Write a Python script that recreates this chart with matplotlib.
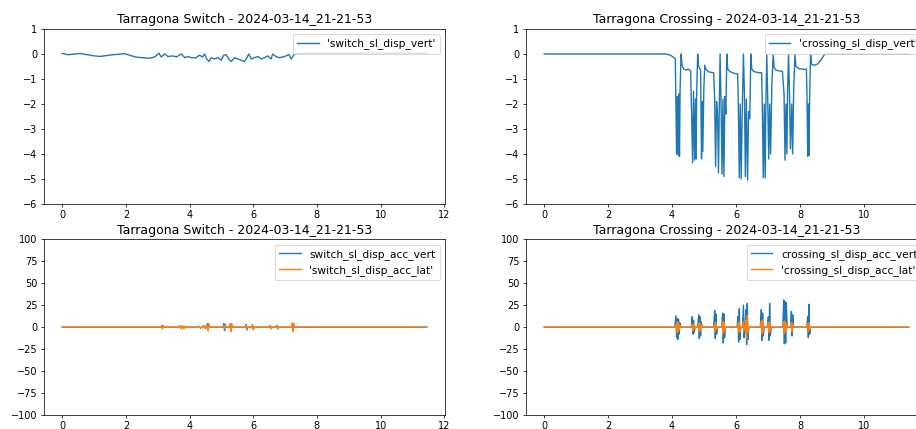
#-*-coding:utf-8 -*-
# Tarragona switch / crossing displacement + acceleration, 2024-03-14_21-21-53
import numpy as np
import matplotlib
matplotlib.use('Agg')
import matplotlib.pyplot as plt

run_id = '2024-03-14_21-21-53'

# switch vertical displacement (t [s], value)
sw_t = [0.00, 0.19, 0.55, 0.97, 1.18, 1.60, 1.96, 2.33, 2.75, 2.90,
        3.04, 3.11, 3.22, 3.32, 3.48, 3.59, 3.74, 3.85, 3.95, 4.05,
        4.20, 4.31, 4.41, 4.47, 4.54, 4.61, 4.68, 4.79, 4.89, 5.00,
        5.07, 5.15, 5.24, 5.31, 5.41, 5.52, 5.62, 5.73, 5.78, 5.86,
        5.94, 6.04, 6.14, 6.25, 6.35, 6.46, 6.56, 6.61, 6.71, 6.82,
        6.93, 7.03, 7.12, 7.19, 7.24, 7.30, 7.45, 7.75, 11.45]
sw_vert = [0.02, -0.03, 0.02, -0.07, -0.10, -0.03, 0.01, -0.13, -0.17, -0.12,
           0.03, -0.12, 0.00, -0.10, -0.08, -0.12, 0.00, -0.15, -0.10, -0.15,
           -0.15, -0.05, -0.12, 0.00, -0.20, -0.30, -0.15, -0.20, -0.15, -0.25,
           -0.05, -0.03, -0.22, -0.30, -0.15, -0.20, -0.25, -0.30, -0.20, 0.00,
           -0.20, -0.15, -0.10, -0.20, -0.15, -0.08, -0.20, 0.00, -0.10, -0.15,
           -0.12, -0.08, -0.02, -0.20, -0.10, 0.00, 0.02, 0.03, 0.03]

# crossing vertical displacement
cr_t = [0.00, 3.80, 3.95, 4.06, 4.10,
        4.12, 4.14, 4.16, 4.19, 4.21, 4.23, 4.25, 4.28,
        4.31, 4.36, 4.45, 4.50, 4.58,
        4.61, 4.64, 4.67, 4.70, 4.73, 4.75, 4.77, 4.80,
        4.83, 4.87, 4.89, 4.90, 4.92, 4.94, 4.96, 4.99, 5.02, 5.06, 5.15, 5.30,
        5.33, 5.36, 5.39, 5.42, 5.45, 5.48, 5.50, 5.53, 5.56, 5.59, 5.62, 5.65, 5.68, 5.71,
        5.74, 5.80, 5.95, 6.05,
        6.07, 6.10, 6.13, 6.16, 6.19, 6.23, 6.26, 6.29, 6.32, 6.36, 6.39, 6.43, 6.46,
        6.49, 6.55, 6.70, 6.80,
        6.82, 6.85, 6.88, 6.91, 6.93, 6.96, 6.99, 7.02, 7.05, 7.08, 7.12, 7.16,
        7.19, 7.25, 7.45,
        7.50, 7.53, 7.56, 7.59, 7.61, 7.64, 7.67, 7.70, 7.74, 7.77, 7.80, 7.84,
        7.87, 7.95, 8.15, 8.20,
        8.22, 8.24, 8.26, 8.28, 8.30, 8.33,
        8.36, 8.45, 8.55, 8.65, 8.75, 8.80, 11.40]
cr_vert = [0.0, 0.0, -0.05, -0.15, -0.20,
           -2.1, -4.0, -1.7, -4.05, -1.6, -4.1, -1.4, 0.0,
           -0.45, -0.60, -0.65, -0.60, -0.68,
           -2.4, -4.35, -1.5, -4.25, -1.8, -4.2, -1.4, 0.0,
           -0.50, -0.60, -0.62, -1.9, -4.2, -1.9, -3.9, -1.5, -0.45, -0.62, -0.72, -0.75,
           -1.8, -4.5, -1.9, -2.4, -4.75, -1.7, 0.0, -2.0, -4.8, -1.8, -4.9, -1.7, -2.4, 0.0,
           -0.60, -0.70, -0.78, -0.80,
           -1.95, -4.95, -2.0, -5.0, -2.5, 0.0, -1.5, -4.9, -1.8, -5.05, -2.3, -2.6, 0.0,
           -0.60, -0.70, -0.75, -0.75,
           -2.1, -4.95, -2.0, -4.95, -2.2, 0.0, -1.8, -4.2, -2.0, -4.0, -1.2, 0.0,
           -0.55, -0.65, -0.70,
           -1.6, -4.25, -2.0, -4.0, -1.5, 0.0, -1.6, -3.8, -2.0, -4.0, -1.5, 0.0,
           -0.50, -0.58, -0.62, -0.60,
           -1.9, -4.1, -2.0, -4.05, -1.8, 0.0,
           -0.42, -0.45, -0.40, -0.25, -0.05, 0.0, 0.0]

# switch acceleration (vert / lat)
swa_t = [0.00, 3.10, 3.13, 3.15, 3.17, 3.20, 3.65, 3.70, 3.74, 3.78, 3.82, 3.87, 3.92,
         4.25, 4.30, 4.35, 4.45, 4.50, 4.56, 4.58, 4.60, 4.63,
         5.05, 5.08, 5.10, 5.12, 5.15, 5.25, 5.28, 5.30, 5.32, 5.35,
         5.75, 5.78, 5.80, 5.83, 5.95, 5.98, 6.00, 6.03,
         6.50, 6.53, 6.55, 6.58, 6.72, 6.75, 6.77, 6.80,
         7.20, 7.23, 7.25, 7.27, 7.30, 11.45]
swa_vert = [0, 0, 1, -1, 1, 0, 0, 1, -1, 1, -1, 1, 0,
            0, 1, -1, 1, -1, 4, -4, 3, 0,
            0, 4, -4, 3, 0, 0, 2, -3, 2, 0,
            0, 3, -3, 0, 0, 2, -2, 0,
            0, 1, -1, 0, 0, 2, -2, 0,
            0, 3, -3, 2, 0, 0]
swa_lat = [0, 0, 2, -2, 2, 0, 0, 2, -2, 2, -2, 1, 0,
           0, 1, -1, 2, -2, 3, -4, 4, 0,
           0, 2, -2, 2, 0, 0, 4, -5, 4, 0,
           0, 2, -2, 0, 0, 3, -3, 0,
           0, 2, -2, 0, 0, 2, -2, 0,
           0, 5, -5, 4, 0, 0]

# crossing acceleration (vert / lat)
cra_t = [0.00, 4.08, 4.12, 4.14, 4.16, 4.18, 4.20, 4.22, 4.24, 4.27,
         4.60, 4.63, 4.65, 4.67, 4.69, 4.72,
         4.80, 4.83, 4.85, 4.87, 4.89, 4.91, 4.94,
         5.30, 5.33, 5.35, 5.37, 5.39, 5.42,
         5.55, 5.58, 5.60, 5.62, 5.64, 5.67,
         6.03, 6.06, 6.08, 6.10, 6.12, 6.15,
         6.20, 6.23, 6.25, 6.28, 6.31, 6.33, 6.35, 6.37, 6.40,
         6.76, 6.79, 6.81, 6.83, 6.85, 6.88,
         6.98, 7.01, 7.03, 7.05, 7.07, 7.10,
         7.46, 7.49, 7.51, 7.53, 7.55, 7.57, 7.60,
         7.70, 7.73, 7.75, 7.77, 7.80,
         8.21, 8.24, 8.26, 8.28, 8.30, 8.33, 11.40]
cra_vert = [0, 0, 13, -12, 10, -14, 9, -8, 5, 0,
            0, 12, -8, 8, -6, 0,
            0, 14, -13, 12, -10, 6, 0,
            0, 19, -13, 15, -8, 0,
            0, 16, -18, 15, -12, 0,
            0, 12, -17, 21, -14, 0,
            0, 25, -12, 0, 20, -20, 27, -14, 0,
            0, 20, -15, 16, -10, 0,
            0, 12, -15, 27, -10, 0,
            0, 31, -19, 29, -18, 28, 0,
            0, 18, -10, 14, 0,
            0, 12, -12, 26, -8, 0, 0]
cra_lat = [0, 0, 3, -5, 6, -6, 5, -3, 2, 0,
           0, 3, -4, 4, -2, 0,
           0, 4, -5, 5, -4, 2, 0,
           0, 4, -5, 5, -3, 0,
           0, 6, -7, 6, -5, 0,
           0, 4, -6, 6, -5, 0,
           0, 6, -4, 0, 8, -13, 13, -6, 0,
           0, 7, -8, 8, -5, 0,
           0, 5, -6, 6, -4, 0,
           0, 6, -7, 7, -5, 4, 0,
           0, 5, -5, 4, 0,
           0, 4, -5, 5, -3, 0, 0]

# text a bit larger than the default at this dpi
plt.rcParams['xtick.labelsize'] = 10.7
plt.rcParams['ytick.labelsize'] = 10.7
plt.rcParams['axes.titlesize'] = 13.6
plt.rcParams['legend.fontsize'] = 11.6

fig = plt.figure(figsize=(916/66, 429/66), dpi=66)
# right column runs past the right edge of the picture (cropped screenshot)
ax1 = fig.add_axes([0.048, 0.5245, 0.4378, 0.408])
ax2 = fig.add_axes([0.5742, 0.5245, 0.4378, 0.408])
ax3 = fig.add_axes([0.048, 0.0326, 0.4378, 0.4096])
ax4 = fig.add_axes([0.5742, 0.0326, 0.4378, 0.4096])

ax1.plot(sw_t, sw_vert, label="'switch_sl_disp_vert'")
ax1.set_ylim(-6, 1)
ax1.set_title('Tarragona Switch - ' + run_id)
ax1.legend(loc='upper right')

ax2.plot(cr_t, cr_vert, label="'crossing_sl_disp_vert'")
ax2.set_ylim(-6, 1)
ax2.set_title('Tarragona Crossing - ' + run_id)
ax2.legend(loc='upper right')

ax3.plot(swa_t, swa_vert, label='switch_sl_disp_acc_vert')
ax3.plot(swa_t, swa_lat, label="'switch_sl_disp_acc_lat'")
ax3.set_ylim(-100, 100)
ax3.set_title('Tarragona Switch - ' + run_id)
ax3.legend(loc='upper right')

ax4.plot(cra_t, cra_vert, label='crossing_sl_disp_acc_vert')
ax4.plot(cra_t, cra_lat, label="'crossing_sl_disp_acc_lat'")
ax4.set_ylim(-100, 100)
ax4.set_title('Tarragona Crossing - ' + run_id)
ax4.legend(loc='upper right')

fig.savefig('out.png', dpi=66)
